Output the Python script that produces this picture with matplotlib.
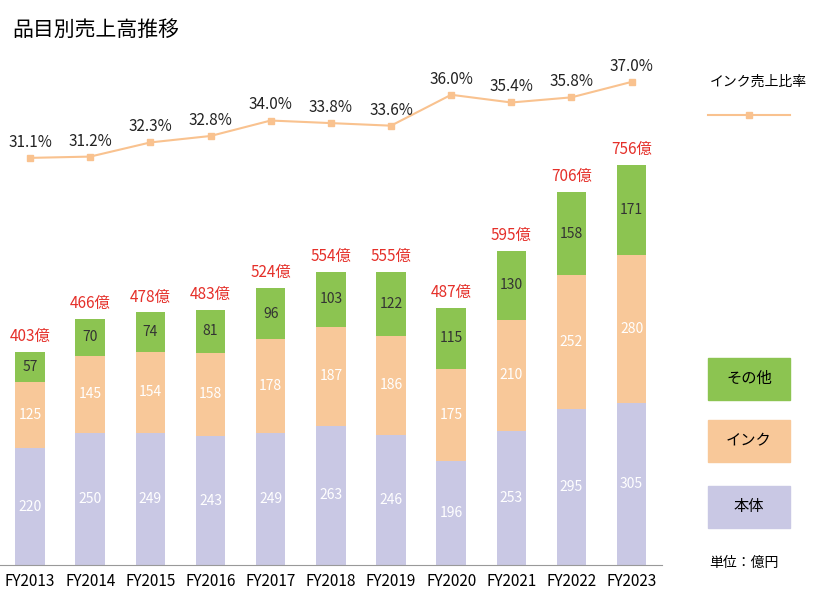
import matplotlib.pyplot as plt
from matplotlib.patches import Rectangle
from matplotlib.lines import Line2D

plt.rcParams['font.family'] = 'Noto Sans CJK JP'

years = ['FY2013', 'FY2014', 'FY2015', 'FY2016', 'FY2017', 'FY2018',
         'FY2019', 'FY2020', 'FY2021', 'FY2022', 'FY2023']
body = [220, 250, 249, 243, 249, 263, 246, 196, 253, 295, 305]
ink = [125, 145, 154, 158, 178, 187, 186, 175, 210, 252, 280]
other = [57, 70, 74, 81, 96, 103, 122, 115, 130, 158, 171]
totals = [403, 466, 478, 483, 524, 554, 555, 487, 595, 706, 756]
ratio = [31.1, 31.2, 32.3, 32.8, 34.0, 33.8, 33.6, 36.0, 35.4, 35.8, 37.0]

c_body = '#c9c8e4'
c_ink = '#f8c899'
c_other = '#8cc451'
c_line = '#f9c28f'
c_red = '#e5302a'

fig = plt.figure(figsize=(8.23, 5.94), dpi=100)
ax = fig.add_axes([0.0, 0.049, 0.804, 0.85])
x = list(range(len(years)))
w = 0.49
ax.bar(x, body, w, color=c_body)
ax.bar(x, ink, w, bottom=body, color=c_ink)
b3 = [b + i for b, i in zip(body, ink)]
ax.bar(x, other, w, bottom=b3, color=c_other)

for i in x:
    ax.text(i, body[i] / 2, str(body[i]), ha='center', va='center', color='white', fontsize=10)
    ax.text(i, body[i] + ink[i] / 2, str(ink[i]), ha='center', va='center', color='white', fontsize=10)
    ax.text(i, b3[i] + other[i] / 2, str(other[i]), ha='center', va='center', color='#333333', fontsize=10)
    ax.text(i, totals[i] + 12, f'{totals[i]}億', ha='center', va='bottom', color=c_red, fontsize=11)

ax.set_xlim(-0.5, 10.5)
ax.set_ylim(0, 954)
ax.set_xticks(x)
ax.set_xticklabels(years, fontsize=11)
ax.tick_params(axis='x', length=0, pad=6)
ax.set_yticks([])
for s in ['top', 'right', 'left']:
    ax.spines[s].set_visible(False)
ax.spines['bottom'].set_color('#999999')

ax2 = ax.twinx()
ax2.plot(x, ratio, color=c_line, marker='s', markersize=4, lw=1.5)
for i in x:
    ax2.text(i, ratio[i] + 0.55, f'{ratio[i]:.1f}%', ha='center', va='bottom', fontsize=11, color='#222222')
ax2.set_ylim(-0.5, 38.7)
ax2.set_yticks([])
for s in ax2.spines.values():
    s.set_visible(False)

fig.text(0.015, 0.95, '品目別売上高推移', fontsize=15, va='center')

# legend
fig.text(0.862, 0.862, 'インク売上比率', fontsize=10, va='center')
fig.add_artist(Line2D([0.860, 0.910, 0.960], [0.806, 0.806, 0.806], color=c_line, lw=1.5,
                      marker='s', markersize=4, markevery=[1], transform=fig.transFigure))
for y0, col, lab in [(0.327, c_other, 'その他'), (0.222, c_ink, 'インク'), (0.111, c_body, '本体')]:
    fig.add_artist(Rectangle((0.860, y0), 0.100, 0.071, color=col, transform=fig.transFigure))
    fig.text(0.910, y0 + 0.0355, lab, fontsize=11, ha='center', va='center')
fig.text(0.862, 0.052, '単位：億円', fontsize=10, va='center')

fig.savefig('out.png', dpi=100)
